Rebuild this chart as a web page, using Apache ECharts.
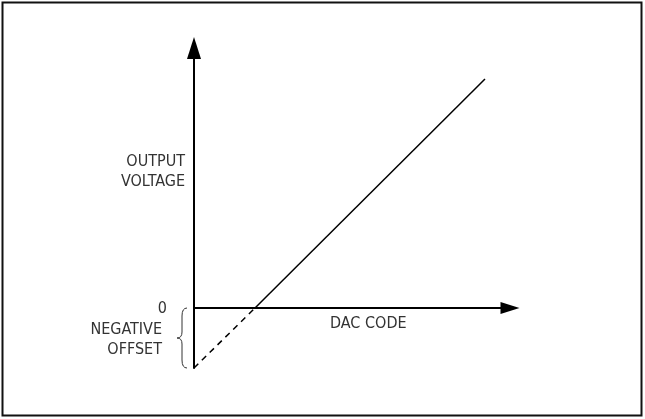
<!DOCTYPE html>
<html>
<head>
<meta charset="utf-8">
<script src="https://cdn.jsdelivr.net/npm/echarts@6/dist/echarts.min.js"></script>
<style>
html,body{margin:0;padding:0;background:#fff;}
#main{width:645px;height:419px;}
</style>
</head>
<body>
<div id="main"></div>
<script>
// Axis ranges (arbitrary units)
const dacRange = [0, 316];
const voltRange = [-60, 260];
// Transfer function points: DAC code -> output voltage
const dacCodes = [0, 61, 291];
const outputVoltage = [-60, 0, 229];
// Annotation texts
const yLabelLines = ['OUTPUT', 'VOLTAGE'];
const zeroLabel = '0';
const offsetLines = ['NEGATIVE', 'OFFSET'];
const xLabel = 'DAC CODE';

const FONT = '"Liberation Sans Narrow", "Arial Narrow", "DejaVu Sans Condensed", sans-serif';
const TXT = '#333';

const chart = echarts.init(document.getElementById('main'), null, {renderer: 'canvas'});

const dashedPart = [[dacCodes[0], outputVoltage[0]], [dacCodes[1], outputVoltage[1]]];
const solidPart = [[dacCodes[1], outputVoltage[1]], [dacCodes[2], outputVoltage[2]]];

chart.setOption({
  animation: false,
  backgroundColor: '#fff',
  grid: {left: 194, top: 48, width: 316, height: 320, containLabel: false},
  xAxis: {
    type: 'value', min: dacRange[0], max: dacRange[1],
    axisLine: {show: true, onZero: true, symbol: ['none', 'triangle'], symbolSize: [12, 19],
      lineStyle: {color: '#000', width: 2}},
    axisTick: {show: false}, axisLabel: {show: false}, splitLine: {show: false}
  },
  yAxis: {
    type: 'value', min: voltRange[0], max: voltRange[1],
    axisLine: {show: true, onZero: true, symbol: ['none', 'triangle'], symbolSize: [14, 22],
      lineStyle: {color: '#000', width: 2}},
    axisTick: {show: false}, axisLabel: {show: false}, splitLine: {show: false}
  },
  series: [
    {type: 'line', data: dashedPart, symbol: 'none', silent: true,
      lineStyle: {color: '#000', width: 1.5, type: [6, 5]}},
    {type: 'line', data: solidPart, symbol: 'none', silent: true,
      lineStyle: {color: '#000', width: 1.5}}
  ]
});

function px(x, y) { return chart.convertToPixel({gridIndex: 0}, [x, y]); }

// anchors in data space
const pY1 = px(-9, 146), pY2 = px(-9, 126);
const p0 = px(-27, -1);
const pN1 = px(-32, -22), pN2 = px(-32, -42);
const pX = px(136, -16);
const bTop = px(-7, 0), bBot = px(-7, voltRange[0]);
const bx = bTop[0], y0 = bTop[1], y1 = bBot[1], mid = (y0 + y1) / 2;
const braceStyle = {fill: 'none', stroke: '#333', lineWidth: 1};
function bz(x1, y1_, cx, cy, x2, y2) {
  return {type: 'bezierCurve', silent: true, shape: {x1: x1, y1: y1_, cpx1: cx, cpy1: cy, x2: x2, y2: y2}, style: braceStyle};
}
function ln(x1, y1_, x2, y2) {
  return {type: 'line', silent: true, shape: {x1: x1, y1: y1_, x2: x2, y2: y2}, style: braceStyle};
}
const brace = [
  bz(bx, y0, bx - 5, y0, bx - 5, y0 + 8),
  ln(bx - 5, y0 + 8, bx - 5, mid - 6),
  bz(bx - 5, mid - 6, bx - 5, mid, bx - 10, mid),
  bz(bx - 10, mid, bx - 5, mid, bx - 5, mid + 6),
  ln(bx - 5, mid + 6, bx - 5, y1 - 8),
  bz(bx - 5, y1 - 8, bx - 5, y1, bx, y1)
];

function txt(t, p, align) {
  return {type: 'text', x: p[0], y: p[1], silent: true,
    style: {text: t, fill: TXT, fontSize: 16, fontFamily: FONT, align: align, verticalAlign: 'middle'}};
}

chart.setOption({
  graphic: [
    {type: 'rect', silent: true, shape: {x: 2.5, y: 2.5, width: 639, height: 413},
      style: {fill: 'none', stroke: '#111', lineWidth: 2}},
    txt(yLabelLines[0], pY1, 'right'),
    txt(yLabelLines[1], pY2, 'right'),
    txt(zeroLabel, p0, 'right'),
    txt(offsetLines[0], pN1, 'right'),
    txt(offsetLines[1], pN2, 'right'),
    txt(xLabel, pX, 'left')
  ].concat(brace)
});
</script>
</body>
</html>
